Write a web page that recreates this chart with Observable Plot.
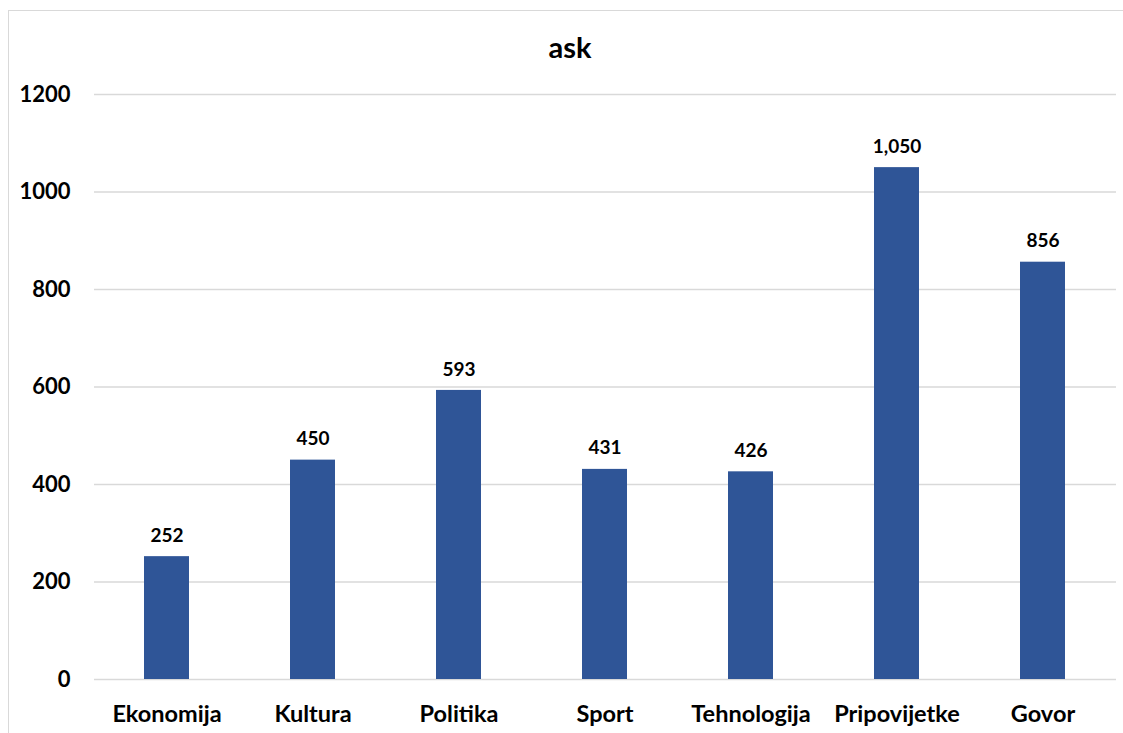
<!DOCTYPE html>
<html>
<head>
<meta charset="utf-8">
<script src="https://cdn.jsdelivr.net/npm/d3@7"></script>
<script src="https://cdn.jsdelivr.net/npm/@observablehq/plot@0.6"></script>
<style>
  html, body { margin: 0; padding: 0; background: #fff; overflow: hidden; width: 1123px; height: 733px; }
  #frame {
    position: absolute; left: 8px; top: 10px;
    width: 1400px; height: 900px;
    border-left: 1.5px solid #d9d9d9; border-top: 1.5px solid #d9d9d9; box-sizing: border-box;
  }
  #title {
    position: absolute; left: 0; top: 0; width: 1140px; height: 80px;
    text-align: center; line-height: 94px;
    font-family: Lato, sans-serif; font-weight: bold; font-size: 29px; color: #000;
  }
  #chart { position: absolute; left: 0; top: 80px; }
  #chart svg g[aria-label="x-axis tick label"] text { font-size: 23.5px; }
</style>
</head>
<body>
<div id="frame"></div>
<div id="title">ask</div>
<div id="chart"></div>
<script>
const categories = ["Ekonomija", "Kultura", "Politika", "Sport", "Tehnologija", "Pripovijetke", "Govor"];
const counts = [252, 450, 593, 431, 426, 1050, 856];
const yTicks = [0, 200, 400, 600, 800, 1000, 1200];

const rows = categories.map((c, i) => ({category: c, count: counts[i]}));
const fmt = d3.format(",");

const chart = Plot.plot({
  width: 1123,
  height: 653,
  marginTop: 14,
  marginBottom: 54,
  marginLeft: 94,
  marginRight: 7,
  style: {fontFamily: "Lato, sans-serif", fontWeight: "bold", fontSize: "22px", color: "#000", background: "transparent"},
  x: {domain: categories, paddingInner: 0.69, paddingOuter: 0.345, label: null, tickSize: 0, tickPadding: 26},
  y: {domain: [0, 1200], ticks: yTicks, tickFormat: d => String(d), label: null, tickSize: 0, tickPadding: 24, grid: false},
  marks: [
    Plot.ruleY(yTicks, {stroke: "#d9d9d9", strokeWidth: 1.5, strokeOpacity: 1}),
    Plot.barY(rows, {x: "category", y: "count", fill: "#2f5597"}),
    Plot.text(rows, {x: "category", y: "count", text: d => fmt(d.count), dy: -21, fontSize: 19, fontWeight: "bold", fill: "#000"})
  ]
});
document.getElementById("chart").appendChild(chart);
</script>
</body>
</html>
